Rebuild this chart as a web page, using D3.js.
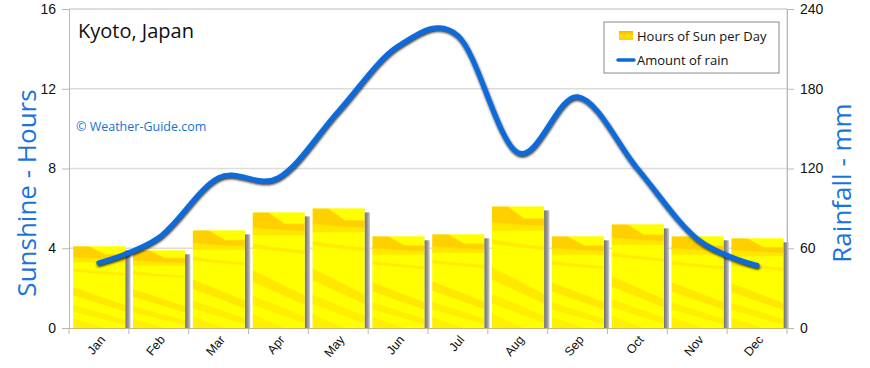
<!DOCTYPE html>
<html>
<head>
<meta charset="utf-8">
<script src="https://cdn.jsdelivr.net/npm/d3@7"></script>
<style>
  body { margin: 0; background: #fff; }
  svg { display: block; font-family: "Open Sans", "DejaVu Sans", sans-serif; }
</style>
</head>
<body>
<svg id="svg"></svg>
<script>
// chart values
const months = ["Jan", "Feb", "Mar", "Apr", "May", "Jun", "Jul", "Aug", "Sep", "Oct", "Nov", "Dec"];
const sunHours = [4.1, 3.9, 4.9, 5.8, 6.0, 4.6, 4.7, 6.1, 4.6, 5.2, 4.6, 4.5];
const rainMm = [49, 68, 113, 113, 163, 212, 220, 132, 174, 120, 67, 47];
const sunTicks = [0, 4, 8, 12, 16];
const rainTicks = [0, 60, 120, 180, 240];

const width = 870;
const height = 368;
const margin = { top: 9, right: 83, bottom: 40, left: 69 };
const chartWidth = width - margin.left - margin.right;
const chartHeight = height - margin.top - margin.bottom;

let svg = d3.select("#svg").attr("width", width).attr("height", height);
let defs = svg.append("defs");

// bar texture, stretched over each bar
let pat = defs.append("pattern")
    .attr("id", "sunTex")
    .attr("patternUnits", "objectBoundingBox")
    .attr("patternContentUnits", "objectBoundingBox")
    .attr("width", 1).attr("height", 1);
pat.append("rect").attr("width", 1).attr("height", 1).attr("fill", "#ffff00");
let streaks = [
    { pts: "0,0 0.3,0 0.62,0.1 1,0.1 1,0.16 0.5,0.15 0,0.13", c: "#ffb000", o: 0.6 },
    { pts: "0,0.13 1,0.15 1,0.2 0,0.2", c: "#ffcc00", o: 0.45 },
    { pts: "0,0.27 0.4,0.3 1,0.33 1,0.36 0,0.31", c: "#ffc400", o: 0.35 },
    { pts: "0,0.5 1,0.72 1,0.8 0.5,0.7 0,0.6", c: "#ffbc00", o: 0.35 },
    { pts: "0,0.72 1,0.9 1,0.96 0,0.8", c: "#ffc800", o: 0.3 },
    { pts: "0,0.88 0.6,1 0,1", c: "#ffcc00", o: 0.3 }
];
pat.selectAll("polygon").data(streaks).join("polygon")
    .attr("points", d => d.pts)
    .attr("fill", d => d.c)
    .attr("opacity", d => d.o);

let shadowGrad = defs.append("linearGradient").attr("id", "barShadow");
shadowGrad.append("stop").attr("offset", "0%").attr("stop-color", "#6f6f6f");
shadowGrad.append("stop").attr("offset", "60%").attr("stop-color", "#9a9a9a");
shadowGrad.append("stop").attr("offset", "100%").attr("stop-color", "#d0d0d0");

let legGrad = defs.append("linearGradient").attr("id", "legSun")
    .attr("x1", 0).attr("x2", 0).attr("y1", 0).attr("y2", 1);
legGrad.append("stop").attr("offset", "0%").attr("stop-color", "#ffb000");
legGrad.append("stop").attr("offset", "50%").attr("stop-color", "#ffe000");
legGrad.append("stop").attr("offset", "100%").attr("stop-color", "#ffd000");

let lineShadow = defs.append("filter").attr("id", "lineShadow")
    .attr("x", "-5%").attr("y", "-10%").attr("width", "110%").attr("height", "120%");
lineShadow.append("feDropShadow")
    .attr("dx", 0.5).attr("dy", 1.5).attr("stdDeviation", 1.3)
    .attr("flood-color", "#000").attr("flood-opacity", 0.85);

let chart = svg.append("g")
    .attr("transform", "translate(" + margin.left + "," + margin.top + ")");

let xScale = d3.scaleBand().domain(months).range([0, chartWidth]);
let yScale = d3.scaleLinear().domain([0, 16]).range([chartHeight, 0]);
let rainScale = d3.scaleLinear().domain([0, 240]).range([chartHeight, 0]);

// grid lines
chart.append("g").selectAll("line").data(sunTicks.slice(1, -1)).join("line")
    .attr("x1", 0).attr("x2", chartWidth)
    .attr("y1", d => yScale(d)).attr("y2", d => yScale(d))
    .attr("stroke", "#dcdcdc").attr("stroke-width", 1.5);
chart.append("line")
    .attr("x1", 0).attr("x2", chartWidth).attr("y1", 0).attr("y2", 0)
    .attr("stroke", "#b8b8b8");
chart.append("line")
    .attr("x1", chartWidth).attr("x2", chartWidth).attr("y1", 0).attr("y2", chartHeight)
    .attr("stroke", "#d0d0d0");

// bars with their shadows
let bw = xScale.bandwidth();
let bars = chart.append("g").selectAll("g").data(sunHours).join("g");
bars.append("rect")
    .attr("x", (d, i) => xScale(months[i]) + bw * 0.94)
    .attr("y", d => yScale(d) + 4)
    .attr("width", bw * 0.09)
    .attr("height", d => chartHeight - yScale(d) - 4)
    .attr("fill", "url(#barShadow)");
bars.append("rect")
    .attr("x", (d, i) => xScale(months[i]) + bw * 0.07)
    .attr("y", d => yScale(d))
    .attr("width", bw * 0.87)
    .attr("height", d => chartHeight - yScale(d))
    .attr("fill", "url(#sunTex)");

// axes
let leftAxis = chart.append("g")
    .call(d3.axisLeft(yScale).tickValues(sunTicks).tickSize(7).tickPadding(6).tickFormat(d3.format("d")));
let rightAxis = chart.append("g")
    .attr("transform", `translate(${chartWidth},0)`)
    .call(d3.axisRight(rainScale).tickValues(rainTicks).tickSize(7).tickPadding(6).tickFormat(d3.format("d")));
let bottomAxis = chart.append("g")
    .attr("transform", `translate(0,${chartHeight})`)
    .call(d3.axisBottom(xScale).tickSize(0));
bottomAxis.selectAll(".tick line").remove();
bottomAxis.append("g").selectAll("line").data(months.concat(["end"])).join("line")
    .attr("x1", (d, i) => i * bw).attr("x2", (d, i) => i * bw)
    .attr("y1", 0).attr("y2", 6)
    .attr("stroke", "#b8b8b8");
bottomAxis.selectAll(".tick text")
    .attr("text-anchor", "end")
    .attr("x", 0).attr("y", 0).attr("dy", 0)
    .attr("transform", "translate(7,12) rotate(-50)");

for (let ax of [leftAxis, rightAxis, bottomAxis]) {
    ax.select(".domain").attr("stroke", "#b8b8b8");
    ax.selectAll(".tick line").attr("stroke", "#b8b8b8");
    ax.selectAll("text").attr("fill", "#111").style("font-size", "14px");
}
bottomAxis.selectAll("text").style("font-size", "12.5px");
bottomAxis.select(".domain").attr("stroke", "#c8b878");

// rain line
let line = d3.line()
    .x((d, i) => xScale(months[i]) + bw / 2)
    .y(d => rainScale(d))
    .curve(d3.curveCatmullRom.alpha(0));
chart.append("path")
    .datum(rainMm)
    .attr("d", line)
    .attr("fill", "none")
    .attr("stroke", "#0a6ad8")
    .attr("stroke-width", 5)
    .attr("stroke-linecap", "round")
    .attr("filter", "url(#lineShadow)");

// titles
svg.append("text")
    .attr("x", 78).attr("y", 38)
    .style("font-size", "20px").attr("fill", "#111")
    .text("Kyoto, Japan");
svg.append("text")
    .attr("x", 76).attr("y", 131)
    .style("font-size", "12.5px").attr("fill", "#1a6fd6")
    .text("© Weather-Guide.com");
svg.append("text")
    .attr("transform", "translate(36,193) rotate(-90)")
    .attr("text-anchor", "middle")
    .style("font-size", "26px").attr("fill", "#1a74de")
    .text("Sunshine - Hours");
svg.append("text")
    .attr("transform", "translate(851,183) rotate(-90)")
    .attr("text-anchor", "middle")
    .style("font-size", "26px").attr("fill", "#1a74de")
    .text("Rainfall - mm");

// legend
let legend = svg.append("g").attr("transform", "translate(604,22)");
legend.append("rect")
    .attr("width", 175).attr("height", 51)
    .attr("fill", "#fff").attr("stroke", "#8a8a8a");
legend.append("rect")
    .attr("x", 15).attr("y", 9).attr("width", 14).attr("height", 9)
    .attr("fill", "url(#legSun)");
legend.append("text")
    .attr("x", 33).attr("y", 19)
    .style("font-size", "13px").attr("fill", "#111")
    .text("Hours of Sun per Day");
legend.append("line")
    .attr("x1", 14).attr("x2", 30).attr("y1", 38).attr("y2", 38)
    .attr("stroke", "#0a6ad8").attr("stroke-width", 3.5).attr("stroke-linecap", "round");
legend.append("text")
    .attr("x", 33).attr("y", 43)
    .style("font-size", "13px").attr("fill", "#111")
    .text("Amount of rain");
</script>
</body>
</html>
